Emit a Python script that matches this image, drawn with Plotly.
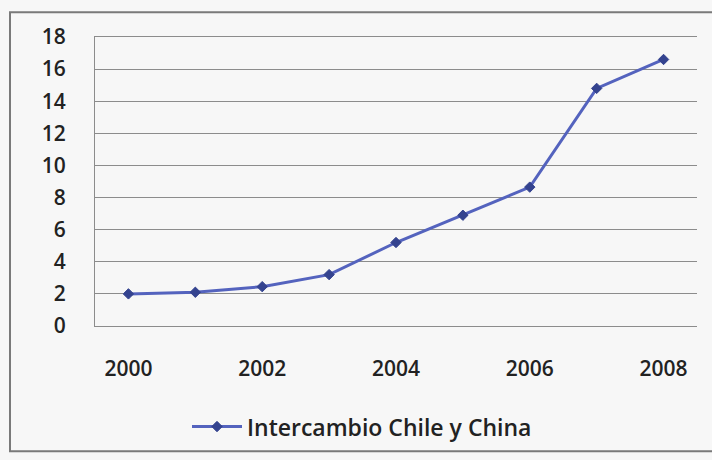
import plotly.graph_objects as go

# Annual trade between Chile and China
years = [2000, 2001, 2002, 2003, 2004, 2005, 2006, 2007, 2008]
intercambio = [2.0, 2.1, 2.45, 3.2, 5.2, 6.9, 8.65, 14.8, 16.6]
series_name = "Intercambio Chile y China"
x_ticks = [2000, 2002, 2004, 2006, 2008]
y_ticks = [0, 2, 4, 6, 8, 10, 12, 14, 16, 18]

W, H = 712, 460
ml, mr, mt, mb = 95, 15, 37, 130
pw, ph = W - ml - mr, H - mt - mb


def px_to_paper_x(px):
    return (px - ml) / pw


def px_to_paper_y(py):
    return (H - mb - py) / ph


fig = go.Figure()
fig.add_trace(go.Scatter(
    x=years, y=intercambio, name=series_name, mode="lines+markers",
    line=dict(color="#5463BE", width=3),
    marker=dict(symbol="diamond", size=8, color="#34438F",
                line=dict(color="#34438F", width=1)),
))

# outer chart frame
fig.add_shape(type="rect", xref="paper", yref="paper",
              x0=px_to_paper_x(10), x1=px_to_paper_x(716),
              y0=px_to_paper_y(457), y1=px_to_paper_y(12),
              line=dict(color="#7a7a7a", width=2), layer="below")

tick_font = dict(family="Open Sans", size=21, color="#222222", weight=600)
grid = "#8c8c8c"

fig.update_layout(
    width=W, height=H,
    margin=dict(l=ml, r=mr, t=mt, b=mb),
    paper_bgcolor="#f7f7f7", plot_bgcolor="#f7f7f7",
    font=tick_font,
    showlegend=True,
    legend=dict(x=px_to_paper_x(362), y=px_to_paper_y(432),
                xanchor="center", yanchor="middle",
                orientation="h", bgcolor="rgba(0,0,0,0)", itemwidth=50,
                font=dict(family="Open Sans", size=23, color="#222222",
                          weight=600)),
    xaxis=dict(range=[1999.5, 2008.5], tickvals=x_ticks,
               ticktext=[str(v) for v in x_ticks],
               showgrid=False, zeroline=False,
               showline=True, mirror=True, linecolor=grid, linewidth=1,
               ticks="", ticklabelstandoff=24, tickfont=tick_font,
               fixedrange=True),
    yaxis=dict(range=[0, 18], tickvals=y_ticks,
               showgrid=True, gridcolor=grid, gridwidth=1,
               zeroline=False,
               showline=True, linecolor=grid, linewidth=1,
               ticks="", ticklabelstandoff=24, tickfont=tick_font,
               fixedrange=True),
)

fig.write_html("out.html")
